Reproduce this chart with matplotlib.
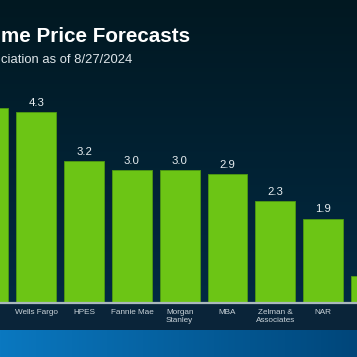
import numpy as np
import matplotlib
matplotlib.use("Agg")
import matplotlib.pyplot as plt
from matplotlib.colors import to_rgb

# forecast data (first and last bars are cut off in the slide crop)
firms = ["Goldman\nSachs", "Wells Fargo", "HPES", "Fannie Mae", "Morgan\nStanley",
         "MBA", "Zelman &\nAssociates", "NAR", "Freddie Mac"]
forecast = [4.4, 4.3, 3.2, 3.0, 3.0, 2.9, 2.3, 1.9, 0.6]
value_labels = ["4.4", "4.3", "3.2", "3.0", "3.0", "2.9", "2.3", "1.9", "0.6"]

W = H = 357
fig = plt.figure(figsize=(W / 100, H / 100), dpi=100)
plt.rcParams['font.family'] = ['Liberation Sans', 'DejaVu Sans']

# background: dark gradient, dark band under the axis, blue strip at bottom
bg = np.zeros((H, W, 3))
top_c, low_c = np.array(to_rgb("#011821")), np.array(to_rgb("#022a43"))
t = np.linspace(0, 1, 303)[:, None]
bg[:303] = (top_c * (1 - t) + low_c * t)[:, None, :]
bg[303:330] = to_rgb("#0a2439")
s = np.linspace(0, 1, W)[:, None]
left_c, right_c = np.array(to_rgb("#0a78c0")), np.array(to_rgb("#00467a"))
bg[330:] = (left_c * (1 - s) + right_c * s)[None, :, :]
bax = fig.add_axes([0, 0, 1, 1])
bax.imshow(bg, aspect="auto", extent=[0, W, H, 0])
bax.axis("off")

# main chart axes, mapped so bars sit at the right pixel positions
ax = fig.add_axes([0, 54 / H, 1, 303 / H])
ax.patch.set_alpha(0)
x = np.arange(len(firms))
ax.bar(x, forecast, width=0.83, color="#6cc515", edgecolor="#4f9a12", linewidth=0.6, zorder=2)
ax.set_xlim(0.24, 7.71)
ax.set_ylim(0, 6.82)
ax.axis("off")
ax.axhline(0, color="#aab8bc", lw=1.6, zorder=3, clip_on=False)

for xi, v, lab in zip(x, forecast, value_labels):
    ax.annotate(lab, (xi, v), xytext=(0, 3), textcoords="offset points",
                ha="center", va="bottom", color="#e6ecef", fontsize=8.2, clip_on=False)

for xi, name in zip(x, firms):
    ax.annotate(name, (xi, 0), xytext=(0, -4.5), textcoords="offset points",
                ha="center", va="top", color="#c9d3d9", fontsize=5.9,
                linespacing=1.05, clip_on=False)

# title and subtitle, as far as they show in the cropped slide
fig.text(1 / W, 1 - 36 / H, "me Price Forecasts", ha="left", va="center",
         color="white", fontsize=14.9, fontweight="bold")
fig.text(1 / W, 1 - 60 / H, "ciation as of 8/27/2024",
         ha="left", va="center", color="#dfe6ea", fontsize=9.4)

fig.savefig("out.png", dpi=100)
